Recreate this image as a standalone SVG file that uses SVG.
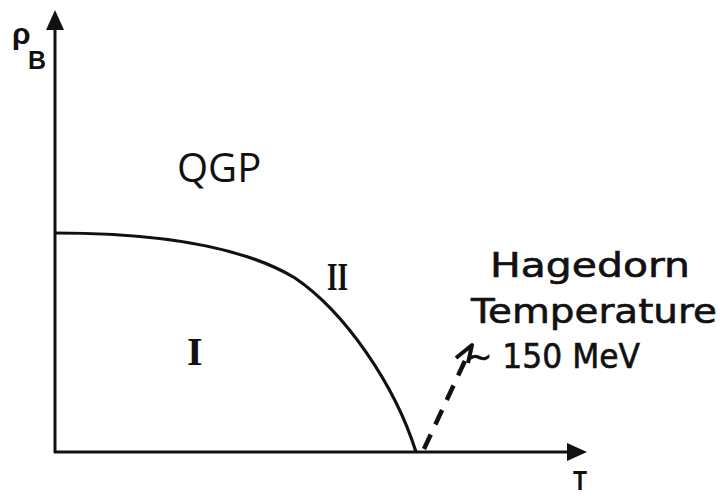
<svg xmlns="http://www.w3.org/2000/svg" width="723" height="496" viewBox="0 0 723 496">
<style>
.ax{stroke:#111;stroke-width:3;fill:none}
.cv{stroke:#111;stroke-width:3.2;fill:none}
.hand{font-family:"DejaVu Sans",sans-serif;fill:#111;stroke:#111;stroke-width:0.6}
.rom{font-family:"Liberation Serif",serif;font-weight:bold;fill:#111}
</style>
<defs>
<marker id="ah" viewBox="0 0 20 20" refX="2" refY="10" markerWidth="20" markerHeight="20" markerUnits="userSpaceOnUse" orient="auto">
<path d="M0,1 L20,10 L0,19 Z" fill="#111"/>
</marker>
</defs>
<rect width="723" height="496" fill="#fff"/>
<g id="connectors">
<line class="ax" x1="55" y1="453" x2="55" y2="28" marker-end="url(#ah)"/>
<line class="ax" x1="54" y1="452" x2="569" y2="452" marker-end="url(#ah)"/>
<path class="cv" d="M55,233 C150,233 240,245 295,278 C345,312 395,385 416,452"/>
<line x1="424" y1="449" x2="470" y2="350" stroke="#111" stroke-width="4.5" stroke-dasharray="16,11"/>
<path d="M456,358 L472,345 L468,363" stroke="#111" stroke-width="4" fill="none" stroke-linejoin="round"/>
</g>
<g id="axis-y-label">
<text x="12" y="44" font-family="Liberation Sans,sans-serif" font-weight="bold" font-size="30" fill="#111">ρ</text>
<text x="28" y="69" font-family="Liberation Sans,sans-serif" font-weight="bold" font-size="25" fill="#111">B</text>
</g>
<g id="axis-x-label">
<text x="573" y="490" font-family="Liberation Sans,sans-serif" font-weight="bold" font-size="28" textLength="14" lengthAdjust="spacingAndGlyphs" fill="#111">T</text>
</g>
<g id="qgp">
<text x="177" y="182" font-family="Open Sans,sans-serif" font-size="40" fill="#111">QGP</text>
</g>
<g id="region-I">
<text x="187" y="365" class="rom" font-size="40">I</text>
</g>
<g id="region-II">
<text x="327" y="290" class="rom" font-size="40" textLength="21" lengthAdjust="spacingAndGlyphs">II</text>
</g>
<g id="hagedorn">
<text x="490" y="277" class="hand" font-size="33" textLength="200" lengthAdjust="spacingAndGlyphs">Hagedorn</text>
<text x="471" y="323" class="hand" font-size="33" textLength="246" lengthAdjust="spacingAndGlyphs">Temperature</text>
<text x="466" y="368" class="hand" font-size="33" textLength="174" lengthAdjust="spacingAndGlyphs">~ 150 MeV</text>
</g>
</svg>
